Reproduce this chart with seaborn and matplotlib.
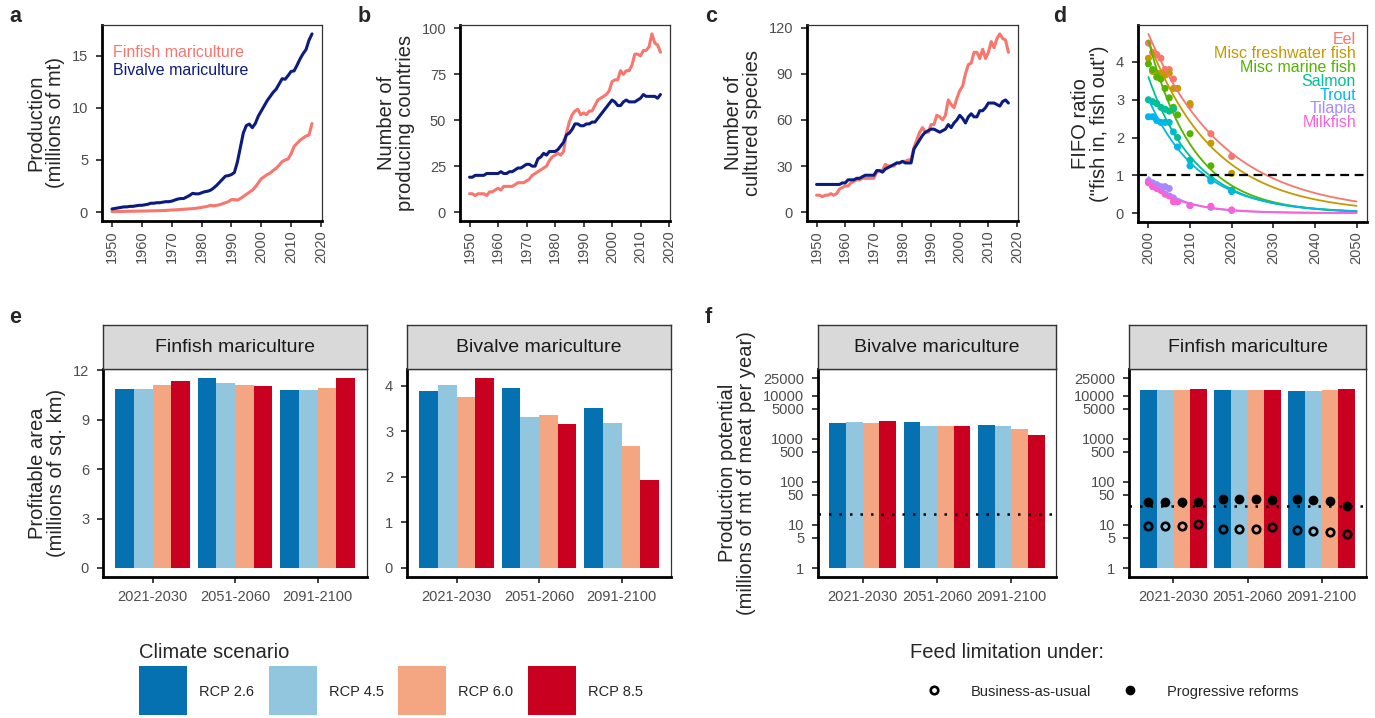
import numpy as np
import pandas as pd
import matplotlib
matplotlib.use("Agg")
import matplotlib.pyplot as plt
from matplotlib.patches import Patch, Rectangle
from matplotlib.lines import Line2D
from matplotlib.legend_handler import HandlerPatch, HandlerLine2D
import seaborn as sns

# ---------------- data ----------------
years = list(range(1950, 2018))

finfish_production = [
    0.05, 0.05, 0.06, 0.06, 0.07, 0.07, 0.08, 0.08, 0.09, 0.09,
    0.10, 0.10, 0.11, 0.12, 0.12, 0.13, 0.14, 0.15, 0.16, 0.18,
    0.20, 0.21, 0.23, 0.25, 0.27, 0.29, 0.31, 0.33, 0.36, 0.40,
    0.45, 0.50, 0.55, 0.65, 0.60, 0.65, 0.70, 0.80, 0.90, 1.00,
    1.20, 1.20, 1.15, 1.30, 1.50, 1.70, 1.90, 2.10, 2.40, 2.80,
    3.20, 3.40, 3.60, 3.75, 4.00, 4.20, 4.50, 4.85, 5.00, 5.10,
    5.60, 6.30, 6.60, 6.90, 7.10, 7.30, 7.40, 8.50]
bivalve_production = [
    0.30, 0.35, 0.40, 0.45, 0.50, 0.50, 0.55, 0.55, 0.60, 0.65,
    0.65, 0.70, 0.75, 0.85, 0.85, 0.90, 0.90, 0.95, 1.00, 1.00,
    1.05, 1.15, 1.25, 1.30, 1.30, 1.45, 1.60, 1.80, 1.75, 1.75,
    1.85, 1.95, 2.00, 2.10, 2.30, 2.55, 2.85, 3.15, 3.45, 3.50,
    3.60, 3.80, 4.80, 6.20, 7.60, 8.30, 8.45, 8.10, 8.50, 9.20,
    9.70, 10.20, 10.70, 11.10, 11.50, 11.80, 12.30, 12.80, 12.75, 13.10,
    13.50, 13.55, 14.10, 14.70, 15.20, 15.60, 16.50, 17.10]

finfish_countries = [
    10, 10, 9, 10, 10, 10, 9, 11, 11, 12,
    13, 12, 14, 14, 14, 14, 15, 16, 16, 16,
    17, 18, 20, 21, 22, 23, 24, 25, 28, 30,
    31, 32, 31, 33, 43, 49, 53, 55, 56, 53,
    54, 53, 55, 55, 58, 61, 62, 63, 64, 66,
    71, 72, 72, 77, 75, 77, 77, 80, 86, 86,
    85, 88, 88, 90, 97, 92, 91, 87]
bivalve_countries = [
    19, 19, 20, 20, 20, 20, 21, 21, 21, 21,
    21, 22, 21, 21, 22, 22, 23, 24, 24, 25,
    26, 26, 25, 25, 29, 30, 32, 31, 33, 33,
    33, 34, 36, 38, 42, 43, 45, 48, 48, 47,
    47, 48, 48, 49, 49, 51, 53, 55, 57, 59,
    61, 60, 58, 58, 60, 61, 60, 60, 60, 61,
    62, 64, 63, 63, 63, 63, 62, 64]

finfish_species = [
    11, 11, 10, 11, 11, 12, 11, 12, 15, 16,
    17, 17, 19, 20, 21, 21, 22, 22, 22, 22,
    22, 26, 27, 27, 31, 30, 30, 30, 32, 32,
    33, 33, 34, 34, 42, 47, 52, 55, 52, 52,
    57, 57, 63, 62, 60, 63, 73, 70, 68, 74,
    79, 82, 90, 96, 97, 104, 104, 100, 106, 100,
    104, 111, 107, 113, 116, 113, 112, 104]
bivalve_species = [
    18, 18, 18, 18, 18, 18, 18, 18, 18, 19,
    19, 21, 21, 21, 22, 22, 23, 24, 24, 24,
    24, 27, 27, 26, 28, 29, 30, 31, 32, 32,
    33, 32, 32, 32, 41, 44, 47, 50, 52, 53,
    54, 54, 53, 52, 53, 54, 57, 55, 58, 60,
    63, 61, 58, 62, 64, 62, 62, 66, 66, 68,
    71, 71, 71, 70, 69, 72, 73, 71]

fifo_years = [2000, 2001, 2002, 2003, 2004, 2005, 2006, 2007, 2010, 2015, 2020]
fifo_eel = [4.50, 4.25, 4.20, 4.10, 3.80, 3.80, 3.55, 3.30, 2.85, 2.10, 1.50]
fifo_misc_freshwater = [4.10, 3.75, 3.70, 3.70, 3.65, 3.70, 3.30, 3.30, 2.90, 1.85, 1.05]
fifo_misc_marine = [3.95, 3.80, 3.60, 3.55, 3.30, 3.05, 2.80, 2.60, 2.10, 1.25, 0.60]
fifo_salmon = [3.00, 2.95, 2.90, 2.80, 2.75, 2.70, 2.75, 2.00, 1.40, 0.90, 0.60]
fifo_trout = [2.55, 2.55, 2.45, 2.40, 2.40, 2.40, 2.15, 1.75, 1.25, 0.85, 0.57]
fifo_tilapia = [0.85, 0.80, 0.75, 0.70, 0.70, 0.65, 0.40, 0.30, 0.20, 0.15, 0.07]
fifo_milkfish = [0.80, 0.70, 0.65, 0.60, 0.50, 0.45, 0.30, 0.30, 0.20, 0.18, 0.08]
fifo_groups = ["Eel", "Misc freshwater fish", "Misc marine fish", "Salmon",
               "Trout", "Tilapia", "Milkfish"]

periods = ["2021-2030", "2051-2060", "2091-2100"]
scenarios = ["RCP 2.6", "RCP 4.5", "RCP 6.0", "RCP 8.5"]

# profitable area (millions of sq. km), one row per period, columns = scenarios
area_finfish = [[10.88, 10.88, 11.12, 11.35],
                [11.51, 11.25, 11.12, 11.06],
                [10.80, 10.78, 10.92, 11.53]]
area_bivalve = [[3.89, 4.02, 3.75, 4.16],
                [3.96, 3.32, 3.35, 3.15],
                [3.50, 3.18, 2.67, 1.92]]

# production potential (millions of mt of meat per year)
potential_bivalve = [[2350, 2430, 2265, 2520],
                     [2390, 2000, 2000, 1930],
                     [2110, 1930, 1640, 1210]]
potential_finfish = [[13100, 13100, 13300, 14050],
                     [13800, 13550, 13550, 13550],
                     [12850, 12850, 13300, 14050]]
feed_bau = [[9.35, 9.35, 9.52, 10.4],
            [7.96, 8.26, 8.26, 8.87],
            [7.82, 7.41, 6.90, 6.09]]
feed_reform = [[33.9, 33.9, 34.4, 34.4],
               [40.5, 40.5, 40.5, 37.1],
               [39.1, 37.1, 35.8, 27.4]]
current_bivalve = 17.8
current_finfish = 28.3

potential_ticks = [1, 5, 10, 50, 100, 500, 1000, 5000, 10000, 25000]

# ---------------- style ----------------
sns.set_style("ticks")
plt.rcParams["font.family"] = ["Liberation Sans", "DejaVu Sans"]

W, H = 1375, 718
fig = plt.figure(figsize=(W / 100, H / 100), dpi=100)

FIN_C = "#F8766D"
BIV_C = "#0B1B7F"
scen_pal = dict(zip(scenarios, ["#0571B0", "#92C5DE", "#F4A582", "#CA0020"]))
fifo_pal = dict(zip(fifo_groups, ["#F8766D", "#C49A00", "#53B400", "#00C094",
                                  "#00B6EB", "#A58AFF", "#FB61D7"]))
TICK_FS = 10.5
TITLE_FS = 14.5


def rect(l, r, t, b):
    return [l / W, 1 - b / H, (r - l) / W, (b - t) / H]


def style(ax, xpad=2.0):
    for s in ["top", "right"]:
        ax.spines[s].set_visible(True)
        ax.spines[s].set_linewidth(0.9)
        ax.spines[s].set_color("#333333")
    for s in ["left", "bottom"]:
        ax.spines[s].set_linewidth(2.0)
        ax.spines[s].set_color("black")
    ax.tick_params(length=4.5, width=1.3, color="#333333", labelcolor="#4D4D4D",
                   labelsize=TICK_FS, bottom=True, left=True,
                   top=False, right=False, direction="out")
    ax.tick_params(axis="y", pad=5.5)
    ax.tick_params(axis="x", pad=xpad)
    ax.grid(False)


def expand(lo, hi, f=0.05):
    d = (hi - lo) * f
    return lo - d, hi + d


def strip(l, r, text):
    sax = fig.add_axes(rect(l, r, 325, 369))
    sax.set_facecolor("#D9D9D9")
    sax.set_xticks([])
    sax.set_yticks([])
    for s in sax.spines.values():
        s.set_visible(True)
        s.set_color("#333333")
        s.set_linewidth(1.0)
    sax.text(0.5, 0.5, text, ha="center", va="center", fontsize=14,
             color="#1A1A1A", transform=sax.transAxes)


def time_panel(rect_px, fin, biv, ylabel, yticks):
    ax = fig.add_axes(rect(*rect_px))
    df = pd.DataFrame({"year": years * 2, "value": fin + biv,
                       "type": ["Finfish"] * len(years) + ["Bivalve"] * len(years)})
    sns.lineplot(data=df, x="year", y="value", hue="type",
                 palette={"Finfish": FIN_C, "Bivalve": BIV_C},
                 hue_order=["Finfish", "Bivalve"], linewidth=2.2,
                 legend=False, ax=ax, estimator=None)
    style(ax)
    ax.set_xlim(*expand(1950, 2017))
    ax.set_ylim(*expand(0, max(max(fin), max(biv))))
    ax.set_xticks(range(1950, 2021, 10))
    ax.set_xticklabels([str(y) for y in range(1950, 2021, 10)], rotation=90)
    ax.set_yticks(yticks)
    ax.set_xlabel("")
    ax.set_ylabel(ylabel, fontsize=TITLE_FS, linespacing=1.0, labelpad=5)
    return ax


# ---------------- panel a ----------------
ax_a = time_panel((102, 322, 25, 221), finfish_production, bivalve_production,
                  "Production\n(millions of mt)", [0, 5, 10, 15])
ax_a.text(0.05, 0.862, "Finfish mariculture", color=FIN_C, fontsize=11.5,
          va="center", transform=ax_a.transAxes)
ax_a.text(0.05, 0.77, "Bivalve mariculture", color=BIV_C, fontsize=11.5,
          va="center", transform=ax_a.transAxes)

# ---------------- panel b ----------------
time_panel((460, 670, 25, 221), finfish_countries, bivalve_countries,
           "Number of\nproducing countries", [0, 25, 50, 75, 100])

# ---------------- panel c ----------------
time_panel((807, 1018, 25, 221), finfish_species, bivalve_species,
           "Number of\ncultured species", [0, 30, 60, 90, 120])

# ---------------- panel d ----------------
ax_d = fig.add_axes(rect(1138, 1367, 25, 222))
fifo_values = [fifo_eel, fifo_misc_freshwater, fifo_misc_marine, fifo_salmon,
               fifo_trout, fifo_tilapia, fifo_milkfish]
pts = pd.DataFrame({
    "year": fifo_years * len(fifo_groups),
    "fifo": sum(fifo_values, []),
    "group": sum([[g] * len(fifo_years) for g in fifo_groups], []),
})

# exponential decay per group: linear regression of log(FIFO) on year
grid_years = np.linspace(2000, 2050, 201)
fits = []
for g, vals in zip(fifo_groups, fifo_values):
    t = np.array(fifo_years, dtype=float) - 2000
    b, a = np.polyfit(t, np.log(np.array(vals)), 1)
    fits.append(pd.DataFrame({"year": grid_years,
                              "fifo": np.exp(a + b * (grid_years - 2000)),
                              "group": g}))
fits = pd.concat(fits)
sns.lineplot(data=fits, x="year", y="fifo", hue="group", palette=fifo_pal,
             hue_order=fifo_groups, linewidth=1.3, legend=False, ax=ax_d,
             estimator=None)
sns.scatterplot(data=pts, x="year", y="fifo", hue="group", palette=fifo_pal,
                hue_order=fifo_groups, s=26, linewidth=0, legend=False, ax=ax_d)
ax_d.axhline(1, color="black", linewidth=1.6, linestyle=(0, (4, 2.5)))
style(ax_d)
ax_d.set_xlim(*expand(2000, 2050))
ax_d.set_ylim(*expand(0, fits["fifo"].max()))
ax_d.set_xticks(range(2000, 2051, 10))
ax_d.set_xticklabels([str(y) for y in range(2000, 2051, 10)], rotation=90)
ax_d.set_yticks([0, 1, 2, 3, 4])
ax_d.set_xlabel("")
ax_d.set_ylabel("FIFO ratio\n(\"fish in, fish out\")", fontsize=TITLE_FS,
                linespacing=1.0, labelpad=5)
for i, g in enumerate(fifo_groups):
    ax_d.text(0.952, (222 - (39.5 + 13.9 * i)) / 197, g, color=fifo_pal[g],
              fontsize=11.5, ha="right", va="center", transform=ax_d.transAxes)


# ---------------- panels e / f ----------------
def long_table(values, name):
    rows = []
    for p, row in zip(periods, values):
        for s, v in zip(scenarios, row):
            rows.append({"period": p, "scenario": s, name: v})
    return pd.DataFrame(rows)


def bar_panel(rect_px, values, ylim, yticks, title, ylabel=None, log=False):
    ax = fig.add_axes(rect(*rect_px))
    df = long_table(values, "value")
    sns.barplot(data=df, x="period", y="value", hue="scenario", order=periods,
                hue_order=scenarios, palette=scen_pal, width=0.9, saturation=1,
                linewidth=0, errorbar=None, legend=False, ax=ax)
    if log:
        # bars rise from 1 on the logarithmic axis
        for p in ax.patches:
            top = p.get_y() + p.get_height()
            p.set_y(1)
            p.set_height(top - 1)
        ax.set_yscale("log")
    style(ax, xpad=5)
    ax.set_ylim(*ylim)
    ax.set_yticks(yticks)
    ax.set_yticklabels([str(t) for t in yticks])
    if log:
        ax.yaxis.set_minor_locator(matplotlib.ticker.NullLocator())
    ax.set_xlim(-0.6, 2.6)
    ax.set_xlabel("")
    ax.set_ylabel(ylabel if ylabel else "", fontsize=TITLE_FS, linespacing=1.0,
                  labelpad=5)
    strip(rect_px[0], rect_px[1], title)
    return ax


bar_panel((103, 367, 369, 577), area_finfish, expand(0, 11.53, 0.048),
          [0, 3, 6, 9, 12], "Finfish mariculture",
          "Profitable area\n(millions of sq. km)")
bar_panel((407, 671, 369, 577), area_bivalve, expand(0, 4.16),
          [0, 1, 2, 3, 4], "Bivalve mariculture")

log_lim = (10 ** -0.205, 10 ** 4.615)
ax_f1 = bar_panel((818, 1056, 369, 577), potential_bivalve, log_lim,
                  potential_ticks, "Bivalve mariculture",
                  "Production potential\n(millions of mt of meat per year)", log=True)
ax_f1.axhline(current_bivalve, color="black", linewidth=1.8,
              linestyle=(0, (1, 3.2)))

ax_f2 = bar_panel((1129, 1366, 369, 577), potential_finfish, log_lim,
                  potential_ticks, "Finfish mariculture", log=True)
ax_f2.axhline(current_finfish, color="black", linewidth=1.8,
              linestyle=(0, (1, 3.2)))
black = {s: "black" for s in scenarios}
sns.pointplot(data=long_table(feed_bau, "bau"), x="period", y="bau",
              hue="scenario", order=periods, hue_order=scenarios, palette=black,
              dodge=0.675, linestyle="none", marker="o", markersize=5.4,
              markerfacecolor="none", markeredgewidth=1.9, errorbar=None,
              legend=False, ax=ax_f2)
sns.pointplot(data=long_table(feed_reform, "reform"), x="period", y="reform",
              hue="scenario", order=periods, hue_order=scenarios, palette=black,
              dodge=0.675, linestyle="none", marker="o", markersize=7.0,
              markeredgewidth=0, errorbar=None, legend=False, ax=ax_f2)
ax_f2.set_xlim(-0.6, 2.6)
ax_f2.set_ylim(*log_lim)
ax_f2.yaxis.set_minor_locator(matplotlib.ticker.NullLocator())
ax_f2.set_xlabel("")
ax_f2.set_ylabel("")

# ---------------- panel letters ----------------
for letter, x, y in [("a", 9, 22), ("b", 358, 22), ("c", 705, 22), ("d", 1053, 22),
                     ("e", 9, 323), ("f", 705, 323)]:
    fig.text(x / W, 1 - y / H, letter, fontsize=15.5, fontweight="bold",
             va="baseline", ha="left")

# ---------------- legends ----------------
leg_fs = 10.5
KEY = 3.3          # key size in units of the legend font size
HH = 4.414         # handle height giving room for the square keys
LEG_TOP = 637


def square_key(legend, orig_handle, xdescent, ydescent, width, height, fontsize):
    # key square centred on the label text
    return Rectangle((-xdescent, 0.35 * fontsize - KEY * fontsize / 2),
                     width, KEY * fontsize)


class CentredMarker(HandlerLine2D):
    """Marker key placed at the vertical centre of its label."""

    def create_artists(self, legend, orig_handle, xdescent, ydescent, width,
                       height, fontsize, trans):
        artists = super().create_artists(legend, orig_handle, xdescent, ydescent,
                                          width, height, fontsize, trans)
        for a in artists:
            a.set_ydata(np.full(len(a.get_xdata()), 0.35 * fontsize))
        return artists


scen_handles = [Patch(facecolor=scen_pal[s], edgecolor="none", label=s)
                for s in scenarios]
fig.legend(handles=scen_handles, title="Climate scenario", ncol=4,
           loc="upper left", bbox_to_anchor=(133 / W, 1 - LEG_TOP / H),
           frameon=False, fontsize=leg_fs, title_fontsize=TITLE_FS,
           handlelength=KEY, handleheight=HH, handletextpad=0.82,
           columnspacing=1.0, alignment="left", borderaxespad=0,
           handler_map={Patch: HandlerPatch(patch_func=square_key)})

feed_handles = [
    Line2D([], [], linestyle="none", marker="o", color="black",
           markerfacecolor="none", markersize=5.4, markeredgewidth=1.9,
           label="Business-as-usual"),
    Line2D([], [], linestyle="none", marker="o", color="black",
           markersize=7.0, markeredgewidth=0, label="Progressive reforms"),
]
fig.legend(handles=feed_handles, title="Feed limitation under:", ncol=2,
           loc="upper left", bbox_to_anchor=(904 / W, 1 - LEG_TOP / H),
           frameon=False, fontsize=leg_fs, title_fontsize=TITLE_FS,
           handlelength=KEY, handleheight=HH, handletextpad=0.9,
           columnspacing=1.0, alignment="left", borderaxespad=0,
           handler_map={Line2D: CentredMarker()})

fig.savefig("out.png", dpi=100)
